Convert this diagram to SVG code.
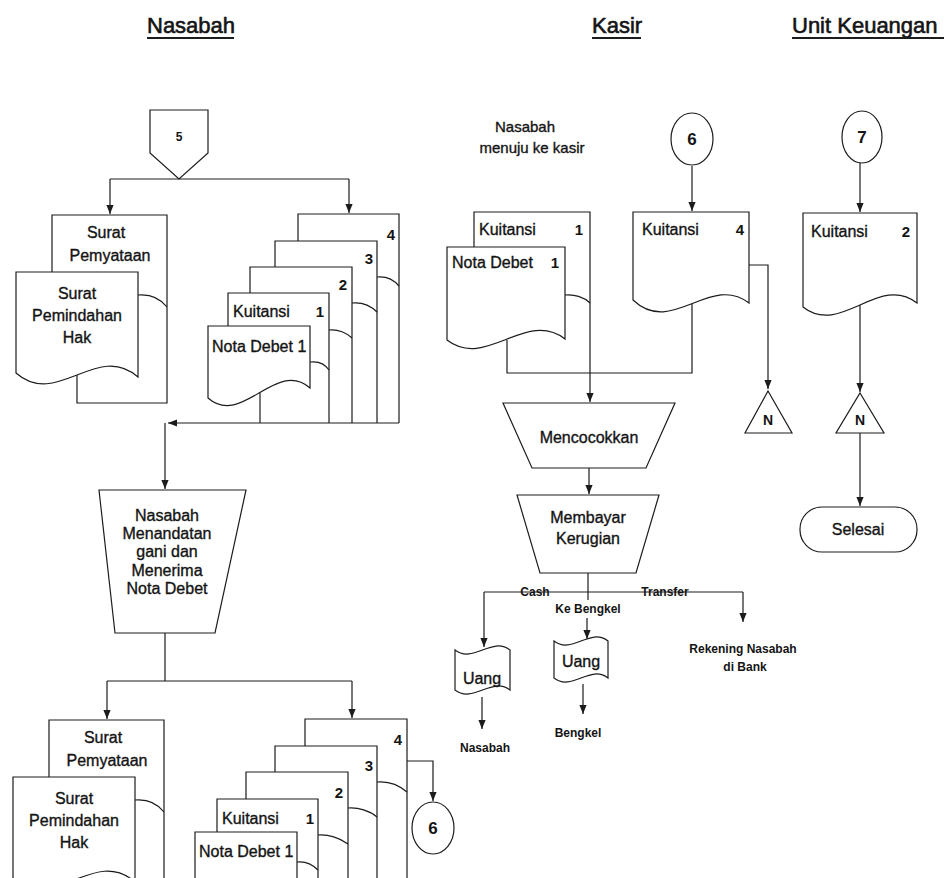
<svg xmlns="http://www.w3.org/2000/svg" width="948" height="878" viewBox="0 0 948 878">
  <style>
    text { font-family: "Liberation Sans", Arial, sans-serif; fill: #141414; stroke: #141414; stroke-width: 0.35; }
    .h { font-size: 22px; stroke-width: 0.6; }
    .t { font-size: 16px; text-anchor: middle; }
    .tl { font-size: 16px; }
    .d { font-size: 15px; font-weight: bold; text-anchor: end; stroke-width: 0; }
    .c { font-size: 17px; font-weight: bold; text-anchor: middle; stroke-width: 0; }
    .s { font-size: 12px; font-weight: bold; text-anchor: middle; stroke-width: 0; }
    .ln { fill: none; stroke: #1c1c1c; stroke-width: 1.2; }
    .sh { fill: #fff; stroke: #1c1c1c; stroke-width: 1.2; }
    .ul { stroke: #1c1c1c; stroke-width: 1.8; }
    .arr { fill: none; stroke: #1c1c1c; stroke-width: 1.2; marker-end: url(#ah); }
  </style>
  <defs>
    <marker id="ah" viewBox="0 0 10 10" refX="10" refY="5" markerWidth="9" markerHeight="9" orient="auto" markerUnits="userSpaceOnUse">
      <path d="M0,1 L10,5 L0,9 Z" fill="#1c1c1c"/>
    </marker>
  </defs>
  <rect width="948" height="878" fill="#fff"/>

  <!-- swimlane titles -->
  <g id="lanes">
    <text class="h" x="147" y="33">Nasabah</text>
    <line class="ul" x1="147" y1="38" x2="234" y2="38"/>
    <text class="h" x="592" y="33">Kasir</text>
    <line class="ul" x1="592" y1="38" x2="641" y2="38"/>
    <text class="h" x="792" y="33">Unit Keuangan</text>
    <line class="ul" x1="792" y1="38" x2="944" y2="38"/>
  </g>

  <!-- connectors -->
  <g id="connectors">
    <path class="ln" d="M110,179 H349"/>
    <path class="arr" d="M110,179 V214"/>
    <path class="arr" d="M349,179 V213"/>
    <path class="arr" d="M399,423 H168"/>
    <path class="arr" d="M165,423 V489"/>
    <path class="ln" d="M165,633 V681"/>
    <path class="ln" d="M107,681 H352"/>
    <path class="arr" d="M107,681 V719"/>
    <path class="arr" d="M352,681 V718"/>
    <path class="arr" d="M407,761 H433 V801"/>
    <path class="arr" d="M692,166 V211"/>
    <path class="ln" d="M507,340 V373 H692 V304"/>
    <path class="arr" d="M590,373 V402"/>
    <path class="arr" d="M749,265 H768 V389"/>
    <path class="arr" d="M589,468 V494"/>
    <path class="ln" d="M588,573 V600"/>
    <path class="ln" d="M484,592 H743"/>
    <path class="arr" d="M484,592 V647"/>
    <path class="arr" d="M743,592 V622"/>
    <path class="arr" d="M587,618 V639"/>
    <path class="arr" d="M482,697 V729"/>
    <path class="arr" d="M583,684 V714"/>
    <path class="arr" d="M860,163 V212"/>
    <path class="arr" d="M860,305 V392"/>
    <path class="arr" d="M860,433 V506"/>
  </g>

  <!-- off-page connector 5 -->
  <g id="offpage-5">
    <polygon class="sh" points="150,110 208,110 208,153 179,179 150,153"/>
    <text class="c" x="179" y="141" style="font-size:12px">5</text>
  </g>

  <!-- Surat Pernyataan + Surat Pemindahan Hak (incoming) -->
  <g id="surat-in">
    <path class="ln" d="M52,272 V215 H167 V403 H77 V375"/>
    <path class="ln" d="M138,295 C150,294 160,298 167,307"/>
    <text class="t" x="106" y="238">Surat</text>
    <text class="t" x="110" y="261">Pemyataan</text>
    <path class="sh" d="M16,272 H138 V377 C97,341 57,409 16,373 Z"/>
    <text class="t" x="77" y="299">Surat</text>
    <text class="t" x="77" y="321">Pemindahan</text>
    <text class="t" x="77" y="343">Hak</text>
  </g>

  <!-- Kuitansi 1-4 + Nota Debet 1 (incoming) -->
  <g id="kuitansi-in">
    <path class="ln" d="M298,241 V214 H399 V423"/>
    <path class="ln" d="M377,277 C386,276 394,280 399,286"/>
    <text class="d" x="395" y="240">4</text>
    <path class="ln" d="M275,267 V241 H377 V423"/>
    <path class="ln" d="M352,303 C362,302 371,306 377,312"/>
    <text class="d" x="373" y="264">3</text>
    <path class="ln" d="M250,293 V267 H352 V423"/>
    <path class="ln" d="M329,330 C338,329 347,333 352,338"/>
    <text class="d" x="347" y="290">2</text>
    <path class="ln" d="M228,326 V293 H329 V423"/>
    <path class="ln" d="M310,362 C318,361 325,364 329,370"/>
    <text class="tl" x="233" y="317">Kuitansi</text>
    <text class="d" x="324" y="317">1</text>
    <path class="sh" d="M208,326 H310 V388 C276,358 242,428 208,398 Z"/>
    <text class="tl" x="212" y="352">Nota Debet 1</text>
    <path class="ln" d="M260,393 V423"/>
  </g>

  <!-- process: sign and receive debit note -->
  <g id="proc-tandatangan">
    <polygon class="sh" points="99,490 246,490 215,633 115,633"/>
    <text class="t" x="167" y="521">Nasabah</text>
    <text class="t" x="167" y="539">Menandatan</text>
    <text class="t" x="167" y="557">gani dan</text>
    <text class="t" x="167" y="576">Menerima</text>
    <text class="t" x="167" y="594">Nota Debet</text>
  </g>

  <!-- Surat Pernyataan + Surat Pemindahan Hak (outgoing) -->
  <g id="surat-out" transform="translate(-3 505)">
    <path class="ln" d="M52,272 V215 H167 V403 H77 V375"/>
    <path class="ln" d="M138,295 C150,294 160,298 167,307"/>
    <text class="t" x="106" y="238">Surat</text>
    <text class="t" x="110" y="261">Pemyataan</text>
    <path class="sh" d="M16,272 H138 V377 C97,341 57,409 16,373 Z"/>
    <text class="t" x="77" y="299">Surat</text>
    <text class="t" x="77" y="321">Pemindahan</text>
    <text class="t" x="77" y="343">Hak</text>
  </g>

  <!-- Kuitansi 1-4 + Nota Debet 1 (outgoing) -->
  <g id="kuitansi-out">
    <path class="ln" d="M305,746 V719 H407 V890"/>
    <path class="ln" d="M377,782 C388,781 399,785 407,792"/>
    <text class="d" x="402" y="745">4</text>
    <path class="ln" d="M275,772 V746 H377 V890"/>
    <path class="ln" d="M348,808 C358,807 370,811 377,817"/>
    <text class="d" x="373" y="771">3</text>
    <path class="ln" d="M246,799 V772 H348 V890"/>
    <path class="ln" d="M318,835 C328,834 340,838 348,844"/>
    <text class="d" x="343" y="798">2</text>
    <path class="ln" d="M217,832 V799 H318 V890"/>
    <path class="ln" d="M297,862 C305,861 313,865 318,870"/>
    <text class="tl" x="222" y="824">Kuitansi</text>
    <text class="d" x="314" y="824">1</text>
    <path class="sh" d="M195,832 H297 V894 C263,864 229,934 195,904 Z"/>
    <text class="tl" x="199" y="857">Nota Debet 1</text>
  </g>

  <!-- connector 6 (out) -->
  <g id="conn-6-out">
    <ellipse class="sh" cx="433" cy="828" rx="21" ry="26"/>
    <text class="c" x="433" y="834">6</text>
  </g>

  <!-- Kasir lane -->
  <g id="note-kasir">
    <text class="t" x="525" y="132" style="font-size:15px">Nasabah</text>
    <text class="t" x="532" y="153" style="font-size:15px">menuju ke kasir</text>
  </g>

  <g id="conn-6-in">
    <ellipse class="sh" cx="692" cy="139" rx="21" ry="26"/>
    <text class="c" x="692" y="145">6</text>
  </g>

  <g id="kasir-kuitansi1">
    <path class="ln" d="M474,247 V212 H590 V373"/>
    <path class="ln" d="M565,295 C574,294 584,297 590,303"/>
    <text class="tl" x="479" y="235">Kuitansi</text>
    <text class="d" x="583" y="235">1</text>
    <path class="sh" d="M447,247 H565 V339 C526,309 486,370 447,340 Z"/>
    <text class="tl" x="452" y="268">Nota Debet</text>
    <text class="d" x="559" y="268">1</text>
  </g>

  <g id="kasir-kuitansi4">
    <path class="sh" d="M633,212 H749 V303 C710,273 672,337 633,300 Z"/>
    <text class="tl" x="642" y="235">Kuitansi</text>
    <text class="d" x="744" y="235">4</text>
  </g>

  <g id="kasir-arsip">
    <polygon class="sh" points="768,391 792,433 745,433"/>
    <text class="c" x="768" y="425" style="font-size:14px">N</text>
  </g>

  <g id="proc-mencocokkan">
    <polygon class="sh" points="503,403 675,403 646,468 532,468"/>
    <text class="t" x="589" y="443">Mencocokkan</text>
  </g>

  <g id="proc-membayar">
    <polygon class="sh" points="517,495 659,495 636,573 540,573"/>
    <text class="t" x="588" y="523">Membayar</text>
    <text class="t" x="588" y="544">Kerugian</text>
  </g>

  <g id="branch-labels">
    <text class="s" x="535" y="596">Cash</text>
    <text class="s" x="665" y="596">Transfer</text>
    <text class="s" x="588" y="613">Ke Bengkel</text>
  </g>

  <g id="uang-nasabah">
    <path class="sh" d="M455,650 C473,664 492,636 510,650 V690 C492,676 473,704 455,690 Z"/>
    <text class="t" x="482" y="684">Uang</text>
    <text class="s" x="485" y="752">Nasabah</text>
  </g>

  <g id="uang-bengkel">
    <path class="sh" d="M554,641 C572,655 590,627 608,641 V678 C590,664 572,692 554,678 Z"/>
    <text class="t" x="581" y="667">Uang</text>
    <text class="s" x="578" y="737">Bengkel</text>
  </g>

  <g id="rekening">
    <text class="s" x="743" y="653">Rekening Nasabah</text>
    <text class="s" x="745" y="671">di Bank</text>
  </g>

  <!-- Unit Keuangan lane -->
  <g id="conn-7">
    <ellipse class="sh" cx="862" cy="137" rx="20" ry="26"/>
    <text class="c" x="862" y="143">7</text>
  </g>

  <g id="keu-kuitansi2">
    <path class="sh" d="M803,213 H917 V303 C879,273 841,337 803,307 Z"/>
    <text class="tl" x="811" y="237">Kuitansi</text>
    <text class="d" x="910" y="237">2</text>
  </g>

  <g id="keu-arsip">
    <polygon class="sh" points="860,393 884,433 836,433"/>
    <text class="c" x="860" y="425" style="font-size:14px">N</text>
  </g>

  <g id="selesai">
    <rect class="sh" x="800" y="507" width="117" height="45" rx="22" ry="22"/>
    <text class="t" x="858" y="535">Selesai</text>
  </g>
</svg>
